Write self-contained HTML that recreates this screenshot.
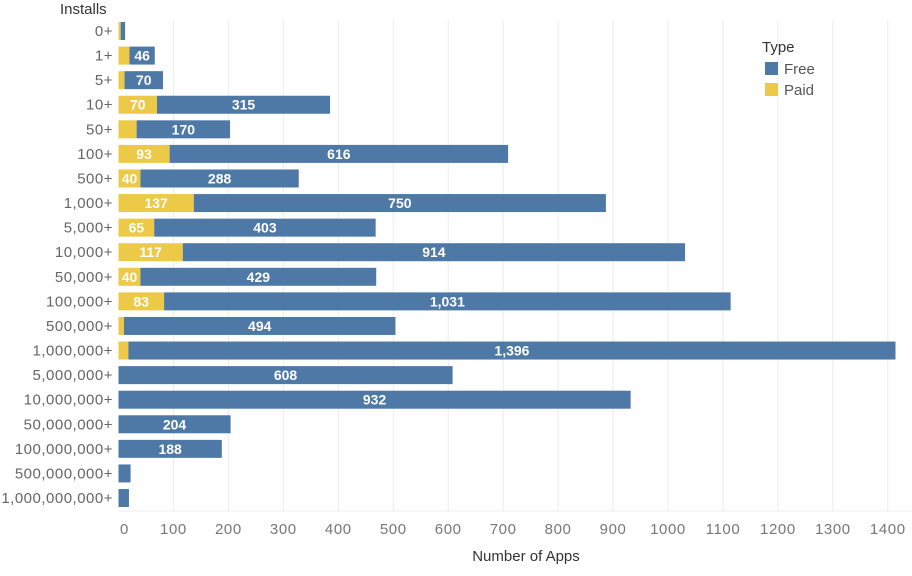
<!DOCTYPE html>
<html><head><meta charset="utf-8"><style>
body{margin:0;background:#fff;font-family:"Liberation Sans",sans-serif}
</style></head><body>
<svg width="912" height="571" xmlns="http://www.w3.org/2000/svg" font-family="Liberation Sans, sans-serif">
<g id="grid" stroke="#ececec" stroke-width="1"></g>
<g id="bars"></g>
<text x="60" y="14" font-size="15" fill="#333">Installs</text>
<line x1="118.5" y1="511" x2="912" y2="511" stroke="#eee"/>
<g id="ticks" font-size="15" fill="#777" text-anchor="middle" letter-spacing="0.6"></g>
<text x="526" y="561" font-size="15" fill="#333" text-anchor="middle">Number of Apps</text>
<text x="762" y="52" font-size="15" fill="#333">Type</text>
<rect x="765" y="62" width="13" height="13" fill="#4e79a7"/>
<text x="784" y="74" font-size="15" fill="#555">Free</text>
<rect x="765" y="83" width="13" height="13" fill="#edc948"/>
<text x="784" y="95" font-size="15" fill="#555">Paid</text>
</svg>
<script>
const NS="http://www.w3.org/2000/svg";
const x0=118.5,s=0.5495;
const rows=[["0+",4,8],["1+",20,46],["5+",11,70],["10+",70,315],["50+",33,170],["100+",93,616],["500+",40,288],["1,000+",137,750],["5,000+",65,403],["10,000+",117,914],["50,000+",40,429],["100,000+",83,1031],["500,000+",10,494],["1,000,000+",18,1396],["5,000,000+",0,608],["10,000,000+",0,932],["50,000,000+",0,204],["100,000,000+",0,188],["500,000,000+",0,22],["1,000,000,000+",0,19]];
const g=document.getElementById("grid"),b=document.getElementById("bars"),t=document.getElementById("ticks");
function el(p,n,a,txt){const e=document.createElementNS(NS,n);for(const k in a)e.setAttribute(k,a[k]);if(txt!=null)e.textContent=txt;p.appendChild(e);return e;}
for(let v=100;v<=1400;v+=100){const x=x0+v*s;el(g,"line",{x1:x,y1:20,x2:x,y2:511});}
for(let v=0;v<=1400;v+=100){const x=v==0?124.5:x0+v*s;el(t,"text",{x:x,y:534},String(v));}
const fmt=n=>n.toLocaleString("en-US");
rows.forEach((r,i)=>{const cy=31+i*24.58;
 el(b,"text",{x:113,y:cy+5,"font-size":15,fill:"#666","text-anchor":"end","letter-spacing":"0.5"},r[0]);
 const px=r[1]*s,fx=r[2]*s;
 if(r[1])el(b,"rect",{x:x0,y:cy-9,width:px,height:18,fill:"#edc948"});
 el(b,"rect",{x:x0+px,y:cy-9,width:fx,height:18,fill:"#4e79a7"});
 if(r[1]>=40)el(b,"text",{x:x0+px/2,y:cy+5,"font-size":14,"font-weight":"bold",fill:"#fff","text-anchor":"middle"},fmt(r[1]));
 if(r[2]>=40)el(b,"text",{x:x0+px+fx/2,y:cy+5,"font-size":14,"font-weight":"bold",fill:"#fff","text-anchor":"middle"},fmt(r[2]));
});
</script>
</body></html>
